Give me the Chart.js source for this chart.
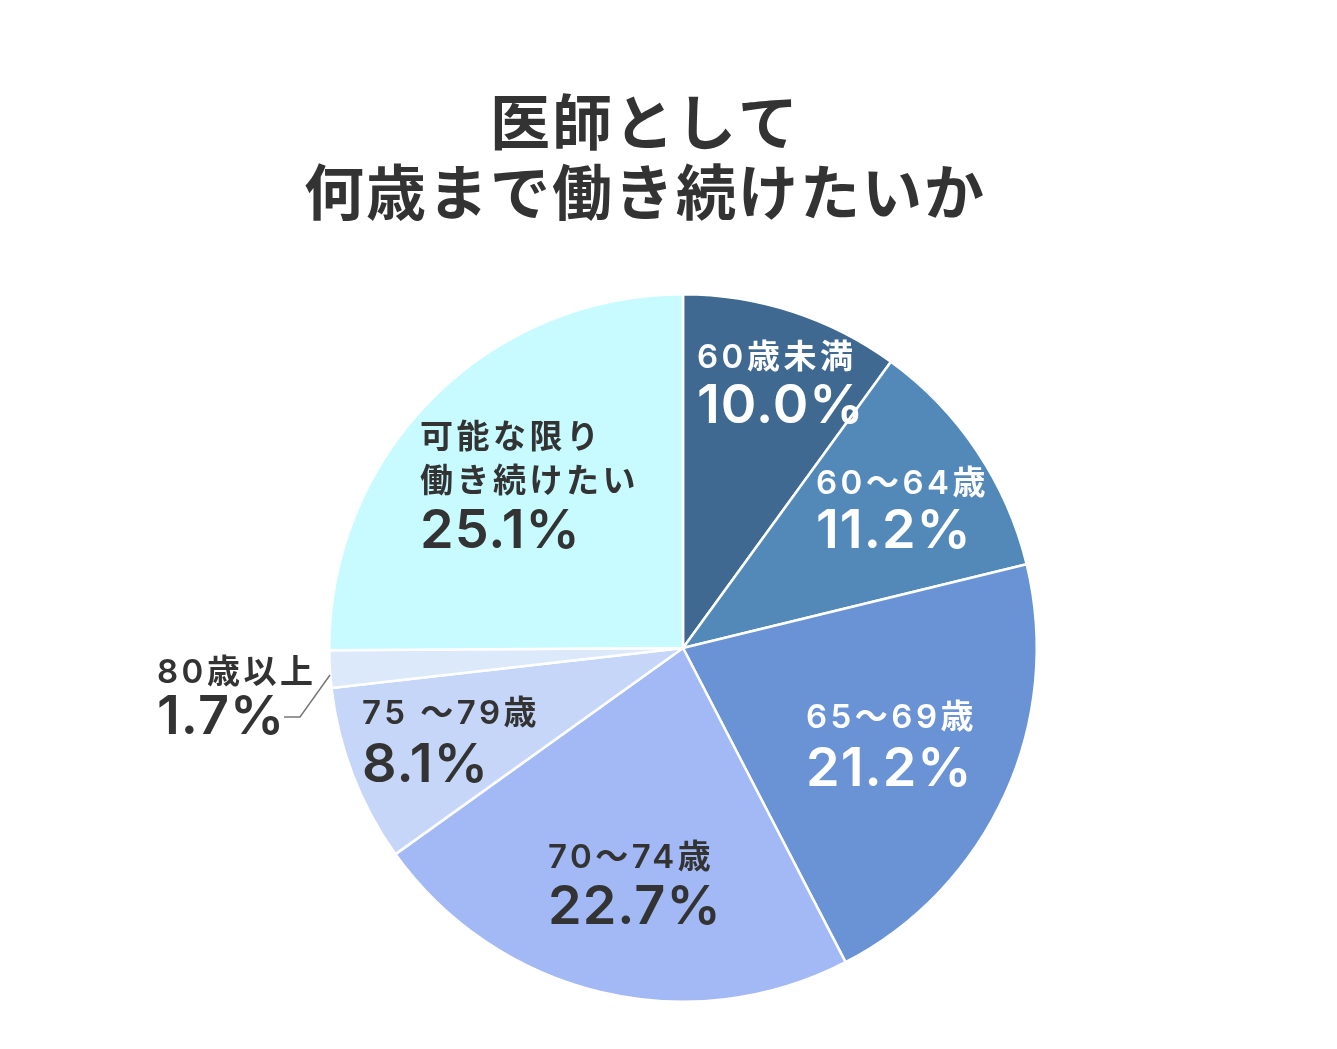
<!DOCTYPE html>
<html>
<head>
<meta charset="utf-8">
<script src="https://cdn.jsdelivr.net/npm/chart.js@4"></script>
<style>
  html, body { margin: 0; padding: 0; background: #fff; }
  canvas { display: block; }
</style>
</head>
<body>
<canvas id="chart" width="1337" height="1049"></canvas>
<script>
// データ
const categories = ["60歳未満", "60〜64歳", "65〜69歳", "70〜74歳", "75〜79歳", "80歳以上", "可能な限り働き続けたい"];
const labelLines = [["60歳未満"], ["60〜64歳"], ["65〜69歳"], ["70〜74歳"], ["75 〜79歳"], ["80歳以上"], ["可能な限り", "働き続けたい"]];
const values = [10.0, 11.2, 21.2, 22.7, 8.1, 1.7, 25.1];
const titleLines = ["医師として", "何歳まで働き続けたいか"];

const colors = ["#3f6990", "#5389b8", "#6993d4", "#a3b9f6", "#c5d6f8", "#dce9fb", "#c7fbff"];
const textColors = ["#fff", "#fff", "#fff", "#333", "#333", "#333", "#333"];

// ラベル位置 (円の中心からのずれ)
const labelPos = [
    { dx: 14, cat: [-290], pct: -241 },
    { dx: 133, cat: [-164], pct: -116 },
    { dx: 123, cat: [70], pct: 122 },
    { dx: -135, cat: [210], pct: 260 },
    { dx: -321, cat: [66], pct: 118 },
    { dx: -526, cat: [25], pct: 70 },
    { dx: -263, cat: [-210, -166], pct: -116 },
];

const FONT = 'Inter, "Noto Sans CJK JP", sans-serif';

// タイトルとラベルを描くプラグイン
const labelPlugin = {
    id: "labelPlugin",
    afterDraw: (chart) => {
        const { ctx } = chart;
        ctx.save();
        ctx.fillStyle = "#333";
        ctx.textAlign = "center";
        ctx.textBaseline = "middle";
        ctx.font = 'bold 60px "Noto Sans CJK JP", sans-serif';
        ctx.letterSpacing = "2px";
        ctx.fillText(titleLines[0], 645, 122);
        ctx.fillText(titleLines[1], 645, 192);

        const meta = chart.getDatasetMeta(0);
        ctx.textAlign = "left";
        meta.data.forEach((arc, i) => {
            const p = labelPos[i];
            const x = arc.x + p.dx;
            ctx.fillStyle = textColors[i];
            ctx.font = "600 33px " + FONT;
            ctx.letterSpacing = "3.5px";
            labelLines[i].forEach((line, j) => {
                ctx.fillText(line, x, arc.y + p.cat[j]);
            });
            ctx.font = "600 54px " + FONT;
            ctx.letterSpacing = "1px";
            ctx.fillText(values[i].toFixed(1) + "%", x, arc.y + p.pct);
        });

        // 80歳以上の引き出し線
        const a5 = meta.data[5];
        ctx.strokeStyle = "#777";
        ctx.lineWidth = 1.5;
        ctx.beginPath();
        ctx.moveTo(a5.x - 399, a5.y + 69);
        ctx.lineTo(a5.x - 383, a5.y + 69);
        ctx.lineTo(a5.x - 353, a5.y + 27);
        ctx.stroke();
        ctx.restore();
    },
};

new Chart(document.getElementById("chart"), {
    type: "pie",
    data: {
        labels: categories,
        datasets: [
            {
                data: values,
                backgroundColor: colors,
                borderColor: "#fff",
                borderWidth: 2.5,
            },
        ],
    },
    options: {
        responsive: false,
        animation: false,
        layout: {
            padding: { top: 293, bottom: 46, left: 328, right: 299 },
        },
        plugins: {
            legend: { display: false },
            tooltip: { enabled: false },
            title: { display: false },
        },
    },
    plugins: [labelPlugin],
});
</script>
</body>
</html>
